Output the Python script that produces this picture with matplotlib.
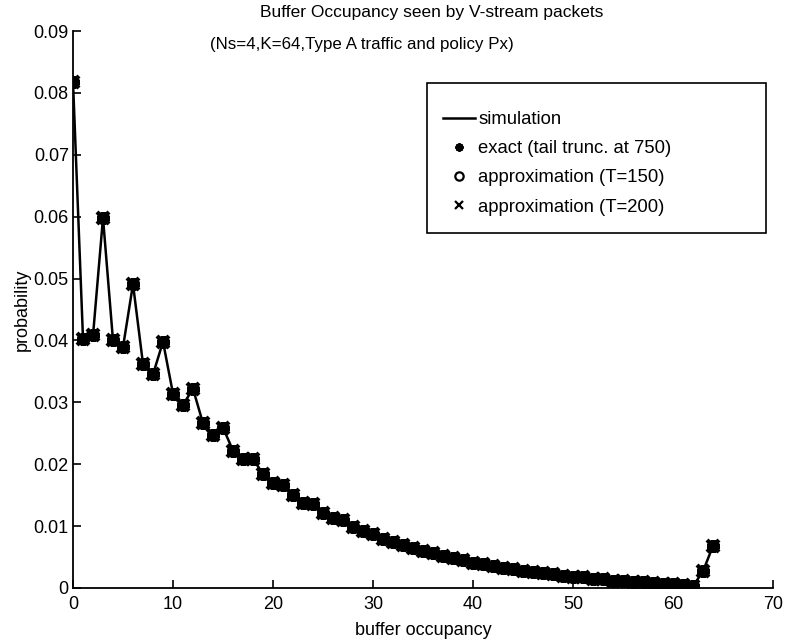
import numpy as np
import matplotlib
matplotlib.use("Agg")
import matplotlib.pyplot as plt
from matplotlib.patches import Rectangle

plt.rcParams['font.family'] = ['Liberation Sans', 'DejaVu Sans']

# buffer occupancy levels 0..64
occupancy = np.arange(0, 65)

# simulated probability of each occupancy level
prob_simulation = [
    0.0818, 0.0403, 0.0408, 0.0598, 0.0400, 0.0389, 0.0491, 0.0362, 0.0345, 0.0398,
    0.0314, 0.0296, 0.0322, 0.0266, 0.0248, 0.0259, 0.0222, 0.0208, 0.0209, 0.0184,
    0.0169, 0.0167, 0.0150, 0.0138, 0.0135, 0.0121, 0.0113, 0.0110, 0.0098, 0.0092,
    0.0087, 0.0079, 0.0074, 0.0069, 0.0064, 0.0059, 0.0056, 0.0052, 0.0048, 0.0045,
    0.0041, 0.0038, 0.0036, 0.0033, 0.0031, 0.0028, 0.0026, 0.0024, 0.0022, 0.0020,
    0.0018, 0.0017, 0.0015, 0.0014, 0.0012, 0.0011, 0.0010, 0.0009, 0.0008, 0.0007,
    0.0006, 0.0005, 0.0003, 0.0027, 0.0068,
]
# exact solution and the two approximations coincide with the simulation
prob_exact = list(prob_simulation)
prob_approx_150 = list(prob_simulation)
prob_approx_200 = list(prob_simulation)

x_ticks = [0, 10, 20, 30, 40, 50, 60, 70]
y_ticks = [0, 0.01, 0.02, 0.03, 0.04, 0.05, 0.06, 0.07, 0.08, 0.09]
y_tick_labels = ['0', '0.01', '0.02', '0.03', '0.04', '0.05', '0.06', '0.07', '0.08', '0.09']

W, H = 786, 643
fig = plt.figure(figsize=(W / 100, H / 100), dpi=100)
ax = fig.add_axes([73 / W, 1 - 588 / H, 700 / W, (588 - 31) / H])

ax.plot(occupancy, prob_simulation, color='black', lw=1.8, label='simulation')
ax.plot(occupancy, prob_exact, linestyle='none', marker=(8, 2, 0), ms=9, mew=3.2,
        color='black', label='exact (tail trunc. at 750)')
ax.plot(occupancy, prob_approx_150, linestyle='none', marker='o', ms=7, mew=1.8,
        mfc='none', color='black', label='approximation (T=150)')
ax.plot(occupancy, prob_approx_200, linestyle='none', marker='x', ms=9, mew=3,
        color='black', label='approximation (T=200)')

ax.set_xlim(0, 70)
ax.set_ylim(0, 0.09)
ax.set_xticks(x_ticks)
ax.set_yticks(y_ticks)
ax.set_yticklabels(y_tick_labels)
ax.spines['top'].set_visible(False)
ax.spines['right'].set_visible(False)
for s in ('left', 'bottom'):
    ax.spines[s].set_linewidth(1.3)
ax.tick_params(direction='in', length=6, width=1.2, labelsize=13)
ax.tick_params(axis='x', pad=6)
ax.tick_params(axis='y', pad=3)

ax.set_xlabel('buffer occupancy', fontsize=13, labelpad=6)
ax.set_ylabel('probability', fontsize=13, labelpad=2)

fig.text(432 / W, 1 - 13 / H, 'Buffer Occupancy seen by V-stream packets',
         ha='center', va='center', fontsize=12.5)
fig.text(362 / W, 1 - 45 / H, '(Ns=4,K=64,Type A traffic and policy Px)',
         ha='center', va='center', fontsize=12.2)

# legend box frame
fig.add_artist(Rectangle((427 / W, 1 - 233 / H), 339 / W, 150 / H,
                         transform=fig.transFigure, facecolor='white',
                         edgecolor='black', lw=1.2, zorder=4))

handles, labels = ax.get_legend_handles_labels()
leg = fig.legend(handles, labels, loc='upper left',
                 bbox_to_anchor=(443 / W, 1 - 111 / H),
                 bbox_transform=fig.transFigure, frameon=False,
                 fontsize=13.3, handlelength=1.72, handletextpad=0.2,
                 labelspacing=0.66, borderpad=0, borderaxespad=0)
leg.set_zorder(5)
for h in leg.legend_handles[1:]:
    h.set_markersize(6)
    h.set_markeredgewidth(1.6)

fig.savefig('out.png', dpi=100)
